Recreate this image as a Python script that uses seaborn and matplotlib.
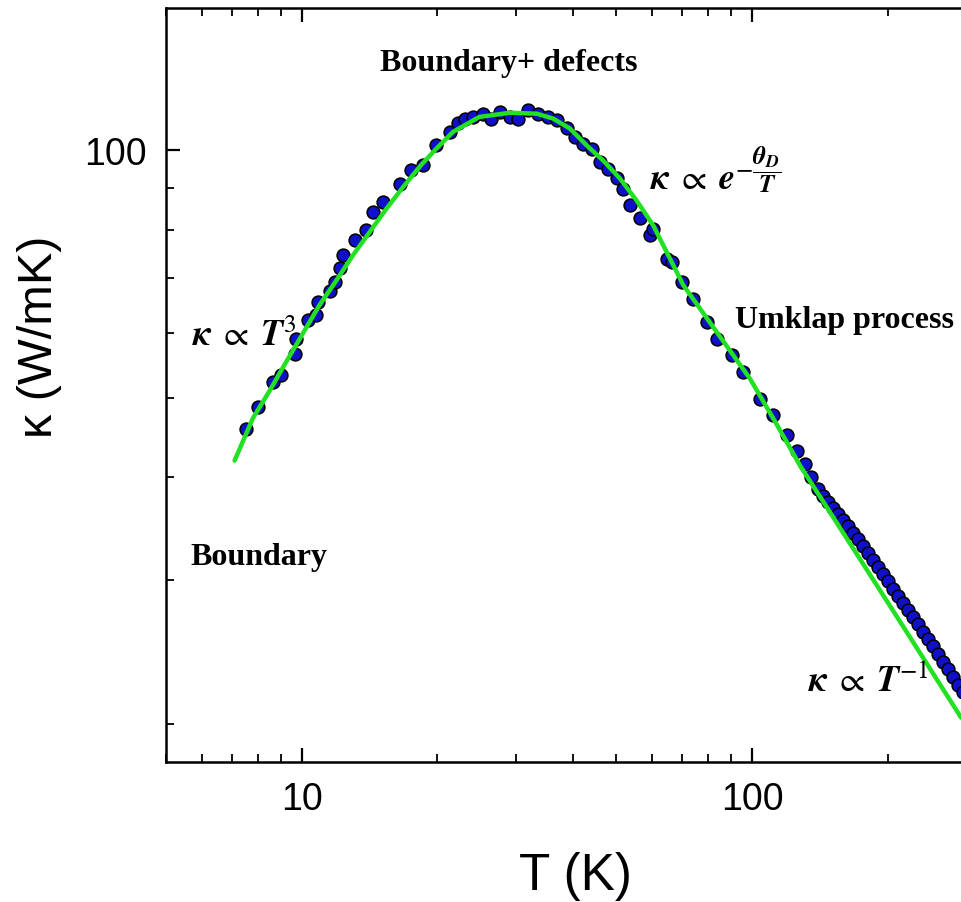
import matplotlib
matplotlib.use('Agg')
import matplotlib.pyplot as plt
import matplotlib.ticker as mticker
import pandas as pd
import seaborn as sns

temp_k = [7.54, 8.00, 8.64, 9.01, 9.65, 9.73, 10.33, 10.78, 10.87, 11.54,
          11.84, 12.14, 12.35, 13.11, 13.92, 14.40, 15.16, 16.51, 17.53, 18.60,
          19.93, 21.33, 22.25, 23.02, 24.02, 25.29, 26.40, 27.54, 28.99, 30.25,
          31.84, 33.50, 35.26, 36.81, 38.74, 40.43, 42.18, 44.04, 45.95, 47.94,
          50.04, 51.76, 53.57, 56.38, 59.34, 60.36, 64.64, 66.31, 69.79, 74.05,
          79.31, 83.49, 90.13, 95.65, 104.2, 111.5, 119.5, 125.9, 131.2, 135.3,
          140.2, 143.8, 147.5, 151.4, 155.3, 159.3, 163.5, 167.7, 172.1, 176.5,
          181.1, 185.8, 190.5, 195.5, 200.5, 205.7, 211.1, 216.6, 222.2, 227.9,
          233.8, 239.9, 246.1, 252.5, 259.1, 265.8, 272.7, 279.8, 287.0, 294.5]
kappa = [45.8, 48.7, 52.2, 53.2, 56.5, 59.0, 62.1, 63.0, 65.4, 67.5,
         69.1, 71.8, 74.5, 77.7, 79.9, 84.1, 86.5, 91.1, 94.5, 95.9,
         101.4, 105.3, 107.8, 109.3, 109.8, 110.8, 109.3, 111.4, 109.8, 109.3,
         111.9, 110.8, 109.8, 108.8, 106.3, 103.8, 101.9, 100.5, 96.8, 95.0,
         92.4, 89.8, 85.7, 82.6, 78.8, 80.3, 73.8, 73.1, 69.1, 66.0,
         61.8, 59.0, 56.3, 53.7, 49.8, 47.6, 45.0, 43.07, 41.53, 40.04,
         38.71, 37.96, 37.33, 36.71, 36.10, 35.49, 34.90, 34.22, 33.65, 32.99,
         32.36, 31.73, 31.11, 30.51, 29.91, 29.25, 28.68, 28.13, 27.58, 27.04,
         26.52, 25.93, 25.42, 24.93, 24.38, 23.84, 23.37, 22.85, 22.34, 21.90]

# fitted curve (green)
fit_temp_k = [7.10, 7.80, 8.5, 9.25, 10.96, 11.94, 13.0, 14.16, 15.43, 16.8,
              18.4, 19.93, 21.69, 24.8, 29.0, 33.3, 36.17, 39.4, 42.93, 46.7,
              50.9, 55.4, 60.36, 70.4, 99.0, 112.5, 127.9, 165.1, 213.3, 291.3]
fit_kappa = [41.9, 47.2, 51.0, 55.3, 64.8, 69.4, 74.5, 79.5, 84.9, 90.2,
             95.9, 100.5, 105.3, 109.8, 111.1, 110.8, 109.3, 106.3, 101.4, 97.2,
             92.4, 86.9, 81.0, 68.5, 52.7, 46.75, 41.3, 33.2, 26.66, 20.38]

x_major = [10, 100]
y_major = [100]

sns.set_theme(style='ticks')
plt.rcParams['font.family'] = ['Liberation Sans', 'DejaVu Sans']
plt.rcParams['mathtext.fontset'] = 'stix'
plt.rcParams['text.color'] = 'black'
plt.rcParams['axes.labelcolor'] = 'black'

data = pd.DataFrame({'T': temp_k, 'kappa': kappa})
fit = pd.DataFrame({'T': fit_temp_k, 'kappa': fit_kappa})

fig = plt.figure(figsize=(9.61, 9.03), dpi=100)
ax = fig.add_axes([0.1727, 0.155, 0.8273, 0.835])
ax.set_xscale('log')
ax.set_yscale('log')

sns.scatterplot(data=data, x='T', y='kappa', s=85, color='#1010c8',
                edgecolor='black', linewidth=1.1, zorder=2, ax=ax)
sns.lineplot(data=fit, x='T', y='kappa', color='#22e022', linewidth=3.2,
             zorder=3, ax=ax)

ax.set_xlim(5, 291)
ax.set_ylim(18, 149)

ax.xaxis.set_major_locator(mticker.FixedLocator(x_major))
ax.yaxis.set_major_locator(mticker.FixedLocator(y_major))
ax.xaxis.set_minor_locator(mticker.LogLocator(base=10, subs=range(2, 10)))
ax.yaxis.set_minor_locator(mticker.LogLocator(base=10, subs=range(2, 10)))
fmt = mticker.FuncFormatter(lambda v, _: f'{v:g}')
ax.xaxis.set_major_formatter(fmt)
ax.yaxis.set_major_formatter(fmt)
ax.xaxis.set_minor_formatter(mticker.NullFormatter())
ax.yaxis.set_minor_formatter(mticker.NullFormatter())

ax.tick_params(which='major', direction='in', length=10, width=1.6,
               top=True, right=False, labelsize=27, pad=14,
               colors='black', labelcolor='black')
ax.tick_params(which='minor', direction='in', length=6, width=1.3,
               top=True, right=False, colors='black')

ax.spines['right'].set_visible(False)
for side in ['left', 'bottom', 'top']:
    ax.spines[side].set_linewidth(1.8)
    ax.spines[side].set_color('black')

ax.set_xlabel('T (K)', fontsize=37, color='black')
ax.set_ylabel('\u03ba (W/mK)', fontsize=35, color='black')
ax.xaxis.set_label_coords(0.5145, -0.118)
ax.yaxis.set_label_coords(-0.131, 0.565)

serif = dict(family='Liberation Serif', weight='bold', fontsize=23,
             color='black', transform=ax.transAxes, ha='left')
ax.text(0.2692, 0.9284, 'Boundary+ defects', va='center', **serif)
ax.text(0.7157, 0.5875, 'Umklap process', va='center', **serif)
ax.text(0.0302, 0.2732, 'Boundary', va='center', **serif)

math = dict(fontsize=26, color='black', transform=ax.transAxes,
            ha='left', va='baseline')
ax.text(0.0327, 0.5531, r'$\mathbfit{\kappa}\;\propto\;\mathbfit{T}^{3}$', **math)
ax.text(0.6088, 0.76,
        r'$\mathbfit{\kappa}\;\propto\;\mathbfit{e}^{-\dfrac{\mathbfit{\theta}_{\mathbfit{D}}}{\mathbfit{T}}}$',
        **math)
ax.text(0.8075, 0.0958, r'$\mathbfit{\kappa}\;\propto\;\mathbfit{T}^{-1}$', **math)

fig.savefig('out.png', dpi=100)
